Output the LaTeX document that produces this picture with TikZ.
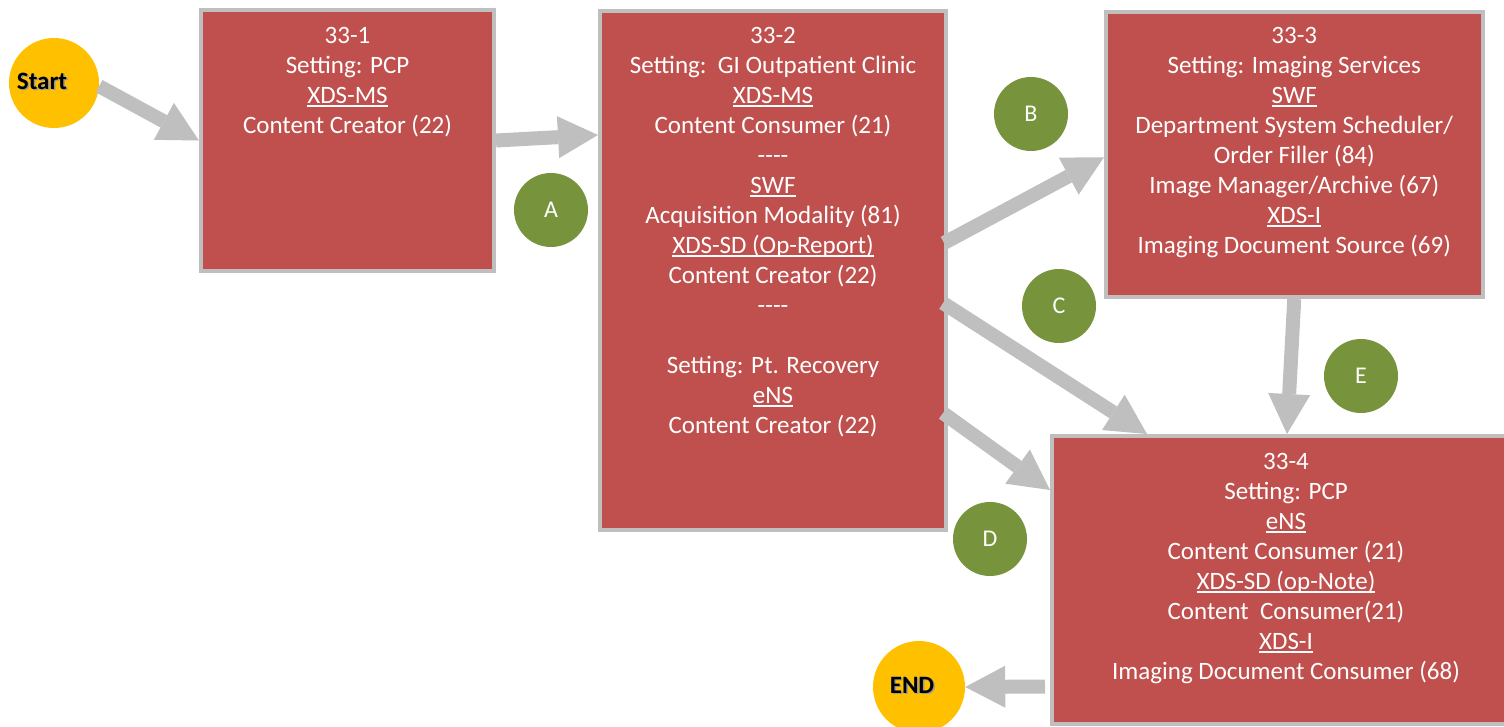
\documentclass[tikz,border=0pt]{standalone}
\usepackage{fontspec}
\setmainfont{Carlito}
\usetikzlibrary{arrows.meta}
\definecolor{boxred}{HTML}{C0504D}
\definecolor{boxgray}{HTML}{BFBFBF}
\definecolor{arrowgray}{HTML}{BFBFBF}
\definecolor{termyellow}{HTML}{FFC000}
\definecolor{circgreen}{HTML}{77933C}
\newsavebox\ulbox
\newcommand\ulin[1]{\sbox\ulbox{#1}\rlap{\rule[-3.5pt]{\wd\ulbox}{1.6pt}}\usebox\ulbox}
\newcommand\shad[1]{\makebox[0pt][l]{\raisebox{-1.5pt}{\hspace{1.5pt}\textcolor{black!40}{#1}}}#1}
\newcommand\firstline{\rule{0pt}{20pt}}
\newcommand\fourdash{-{}-{}-{}-}
\begin{document}
\begin{tikzpicture}[x=1pt,y=-1pt,
  box/.style={draw=boxgray,line width=4pt,fill=boxred,rectangle,inner sep=0pt},
  boxtext/.style={anchor=north,align=center,text=white,font=\fontsize{25}{30}\selectfont,inner sep=0pt},
  letter/.style={circle,fill=circgreen,minimum size=74pt,inner sep=0pt,text=white,font=\fontsize{24}{28}\selectfont},
  terminal/.style={circle,fill=termyellow,inner sep=0pt,font=\bfseries\fontsize{25}{30}\selectfont},
  flow/.style={draw=arrowgray,line width=14pt,-{Triangle[length=40pt,width=42pt,line width=0pt]}}]
\useasboundingbox (0,0) rectangle (1504,726);

% boxes
\node[box,minimum width=293pt,minimum height=261pt] (b1) at (347.5,140.5) {};
\node[box,minimum width=346pt,minimum height=519pt] (b2) at (773,270.5) {};
\node[box,minimum width=376.5pt,minimum height=285.5pt] (b3) at (1294.25,154.25) {};
\node[box,minimum width=468pt,minimum height=288pt] (b4) at (1286,580) {};

% box texts
\node[boxtext] (t1) at (347.5,23) {\firstline 33-1\\Setting: PCP\\\ulin{XDS-MS}\\Content Creator (22)};
\node[boxtext] (t2) at (773,23) {\firstline 33-2\\Setting:\ \ GI Outpatient Clinic\\\ulin{XDS-MS}\\Content Consumer (21)\\\fourdash\\\ulin{SWF}\\Acquisition Modality (81)\\\ulin{XDS-SD (Op-Report)}\\Content Creator (22)\\\fourdash\\[30pt]Setting: Pt. Recovery\\\ulin{eNS}\\Content Creator (22)};
\node[boxtext] (t3) at (1294.25,23) {\firstline 33-3\\Setting: Imaging Services\\\ulin{SWF}\\Department System Scheduler/\\Order Filler (84)\\Image Manager/Archive (67)\\\ulin{XDS-I}\\Imaging Document Source (69)};
\node[boxtext] (t4) at (1286,449) {\firstline 33-4\\Setting: PCP\\\ulin{eNS}\\Content Consumer (21)\\\ulin{XDS-SD (op-Note)}\\Content\ \ Consumer(21)\\\ulin{XDS-I}\\Imaging Document Consumer (68)};

% terminals
\node[terminal,minimum size=90pt] (s) at (54,83) {\raisebox{4pt}{\shad{Start}}\kern24pt\relax};
\node[terminal,minimum size=92pt] (e) at (919,687) {\raisebox{4pt}{\shad{END}}\kern14pt\relax};

% letter circles
\node[letter] (cA) at (551,210) {A};
\node[letter] (cB) at (1031,114) {B};
\node[letter] (cC) at (1059,306) {C};
\node[letter] (cD) at (990,539) {D};
\node[letter] (cE) at (1361,376) {E};

% connectors
\draw[flow] (s.-4) -- (b1.west);
\draw[flow] (b1.east) -- ([yshift=135.5pt]b2.west);
\draw[flow] ([shift={(-4pt,27.5pt)}]b2.east) -- ([yshift=-3pt]b3.west);
\draw[flow] ([shift={(-5pt,-32.5pt)}]b2.east) -- ([xshift=-139pt]b4.north);
\draw[flow] ([shift={(-5pt,-142.5pt)}]b2.east) -- ([yshift=90pt]b4.west);
\draw[flow] (b3.south) -- ([xshift=1pt]b4.north);
\draw[flow] ([shift={(-5pt,-106.5pt)}]b4.west) -- (e.east);
\end{tikzpicture}
\end{document}
